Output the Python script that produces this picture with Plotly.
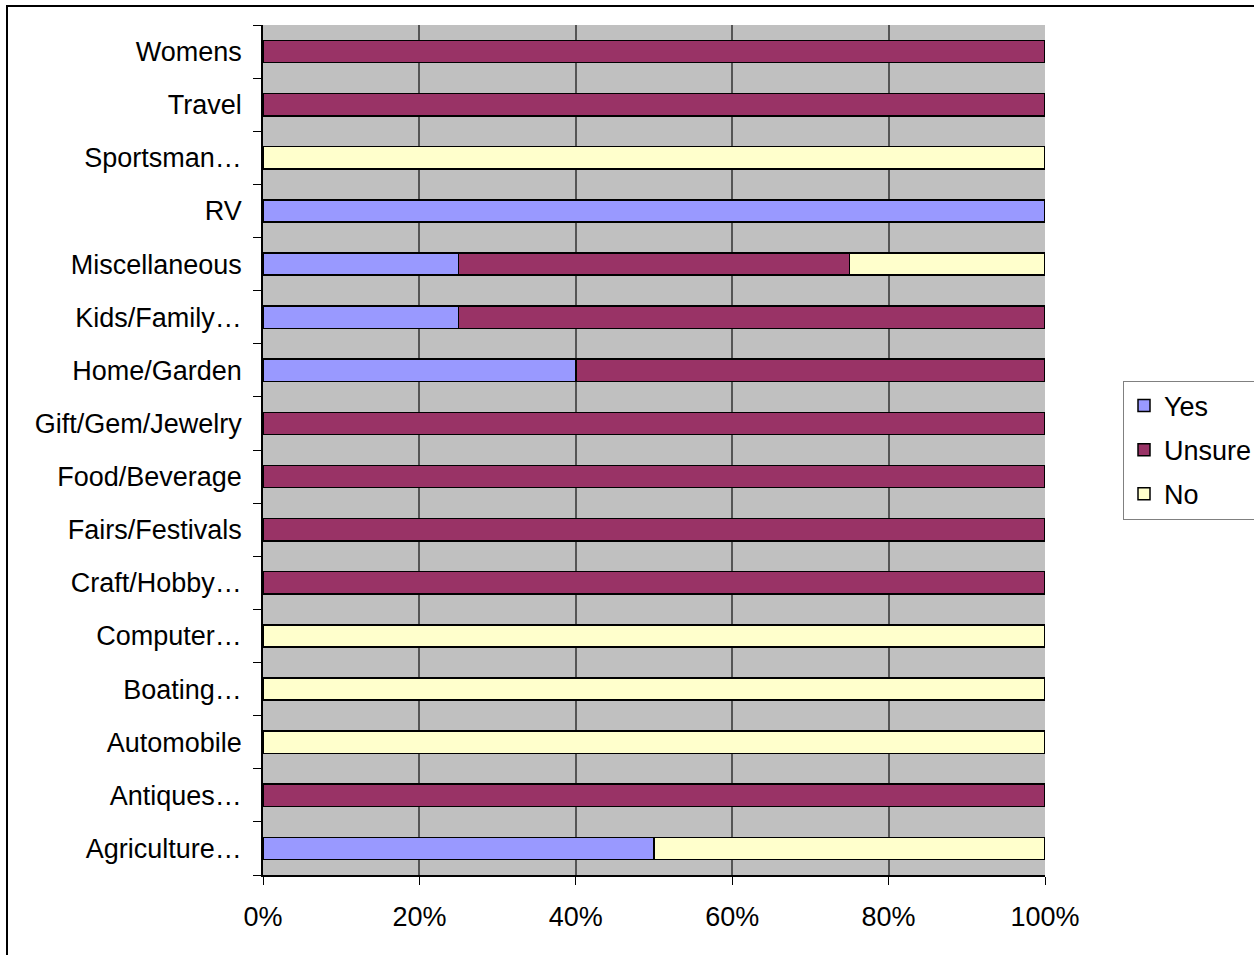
import plotly.graph_objects as go

# Exhibit categories, listed bottom to top
categories = [
    "Agriculture…", "Antiques…", "Automobile", "Boating…", "Computer…",
    "Craft/Hobby…", "Fairs/Festivals", "Food/Beverage", "Gift/Gem/Jewelry",
    "Home/Garden", "Kids/Family…", "Miscellaneous", "RV", "Sportsman…",
    "Travel", "Womens",
]

# Share of responses (%) per category
yes_pct = [50, 0, 0, 0, 0, 0, 0, 0, 0, 40, 25, 25, 100, 0, 0, 0]
unsure_pct = [0, 100, 0, 0, 0, 100, 100, 100, 100, 60, 75, 50, 0, 0, 100, 100]
no_pct = [50, 0, 100, 100, 100, 0, 0, 0, 0, 0, 0, 25, 0, 100, 0, 0]

x_ticks = [0, 20, 40, 60, 80, 100]
x_tick_labels = ["0%", "20%", "40%", "60%", "80%", "100%"]

series = [
    ("Yes", yes_pct, "#9999FF"),
    ("Unsure", unsure_pct, "#993366"),
    ("No", no_pct, "#FFFFCC"),
]

FONT = "Liberation Sans, Arial, sans-serif"

fig = go.Figure()
for name, vals, color in series:
    fig.add_trace(go.Bar(
        y=categories, x=vals, name=name, orientation="h",
        marker=dict(color=color, line=dict(color="black", width=1.5)),
        width=0.42, legendgroup=name,
    ))

L, R, T, B = 263, 1045, 25, 875
W, H = 1254, 955
pw, ph = R - L, B - T

fig.update_layout(
    width=W, height=H,
    margin=dict(l=L, r=W - R, t=T, b=H - B, pad=0, autoexpand=False),
    barmode="stack",
    paper_bgcolor="white",
    plot_bgcolor="#C0C0C0",
    font=dict(family=FONT, size=27, color="black"),
    legend=dict(
        x=(1123 - L) / pw, xanchor="left",
        y=(B - 450) / ph, yanchor="middle",
        bordercolor="#808080", borderwidth=1,
        bgcolor="white",
        traceorder="grouped",
        tracegroupgap=6,
        itemwidth=30,
        font=dict(family=FONT, size=27),
    ),
    xaxis=dict(
        range=[0, 100], tickmode="array", tickvals=x_ticks,
        ticktext=x_tick_labels,
        showgrid=True, gridcolor="#555555", gridwidth=1.5,
        showline=True, linecolor="black", linewidth=1.5,
        ticks="outside", ticklen=8, tickcolor="black",
        ticklabelstandoff=9, zeroline=False,
    ),
    yaxis=dict(
        type="category", categoryorder="array", categoryarray=categories,
        range=[-0.5, len(categories) - 0.5],
        showgrid=False, showline=True, linecolor="black", linewidth=1.5,
        ticks="outside", ticklen=8, tickcolor="black",
        tickson="boundaries", ticklabelstandoff=14, zeroline=False,
    ),
    shapes=[
        dict(type="rect", xref="paper", yref="paper",
             x0=(7 - L) / pw, x1=(1262 - L) / pw,
             y0=(B - 962) / ph, y1=1 + (T - 6) / ph,
             line=dict(color="black", width=2), fillcolor="rgba(0,0,0,0)",
             layer="above"),
    ],
)

fig.write_html("out.html")
